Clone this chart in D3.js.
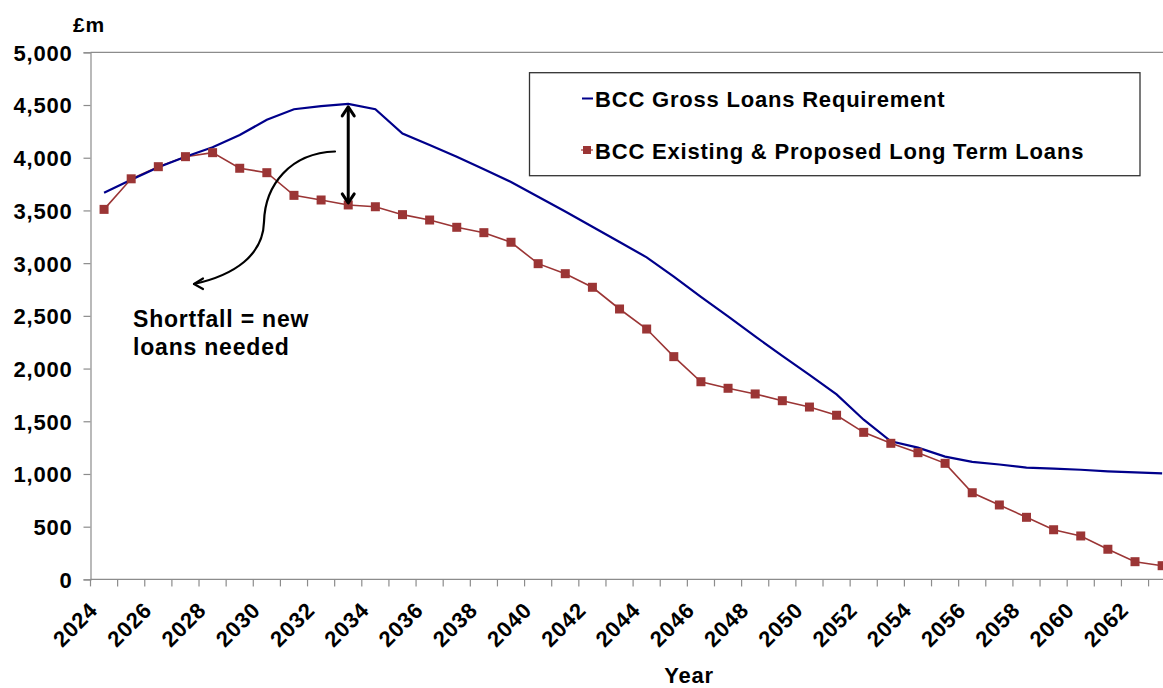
<!DOCTYPE html>
<html>
<head>
<meta charset="utf-8">
<script src="https://cdn.jsdelivr.net/npm/d3@7"></script>
<style>
  html, body { margin: 0; padding: 0; background: #fff; }
  svg { display: block; font-family: "Liberation Sans", Arial, sans-serif; font-weight: bold; letter-spacing: 0.8px; }
</style>
</head>
<body>
<svg id="chart" width="1163" height="688"></svg>
<script>
// Years on the category axis
const years = d3.range(2024, 2064);

// BCC gross loans requirement (£m)
const grossRequirement = [
  3668, 3790, 3910, 4010, 4100, 4215, 4360, 4460, 4490, 4510,
  4460, 4230, 4120, 4010, 3890, 3770, 3630, 3490, 3345, 3200,
  3055, 2873, 2680, 2495, 2305, 2120, 1940, 1755, 1515, 1310,
  1250, 1165, 1115, 1090, 1060, 1050, 1040, 1025, 1015, 1005
];

// BCC existing & proposed long term loans (£m)
const existingLoans = [
  3510, 3800, 3915, 4010, 4048, 3900, 3858, 3643, 3599, 3552,
  3535, 3460, 3409, 3340, 3289, 3198, 2995, 2900, 2771, 2565,
  2375, 2113, 1875, 1813, 1759, 1695, 1635, 1557, 1395, 1291,
  1202, 1101, 822, 706, 589, 471, 412, 286, 168, 130
];

// Axis ticks
const yTicks = d3.range(0, 5001, 500);
const xLabelYears = years.filter(yr => yr % 2 === 0);

const seriesNames = ["BCC Gross Loans Requirement", "BCC Existing & Proposed Long Term Loans"];
const annotationLines = ["Shortfall = new", "loans needed"];
const shortfallYear = 2033;

(function draw() {
  const svg = d3.select("#chart");

  const plotLeft = 90.5, plotTop = 52.3, plotBottom = 579.4;
  const band = 27.13;

  const x = d3.scaleBand().domain(years).range([plotLeft, plotLeft + band * years.length]);
  const cx = d => x(d) + x.bandwidth() / 2;
  const y = d3.scaleLinear().domain([0, 5000]).range([plotBottom, plotTop]);

  const axisGrey = "#8c8c8c";
  const plotRight = plotLeft + band * years.length;

  // plot frame: top edge
  svg.append("line")
    .attr("x1", plotLeft).attr("x2", plotRight)
    .attr("y1", y(5000)).attr("y2", y(5000))
    .attr("stroke", axisGrey).attr("stroke-width", 1.2);

  // y axis
  const yAxis = svg.append("g")
    .attr("transform", `translate(${plotLeft},0)`)
    .call(d3.axisLeft(y).tickValues(yTicks).tickFormat(d3.format(",")).tickSize(7).tickPadding(11));
  yAxis.select(".domain").attr("stroke", axisGrey).attr("stroke-width", 1.2);
  yAxis.selectAll(".tick line").attr("stroke", axisGrey).attr("stroke-width", 1.2);
  yAxis.selectAll(".tick text")
    .attr("fill", "#000").attr("font-size", 22).attr("font-weight", "bold")
    .attr("font-family", "Liberation Sans, Arial, sans-serif")
    .attr("dy", "0.36em");

  // x axis line
  svg.append("line")
    .attr("x1", plotLeft).attr("x2", plotRight)
    .attr("y1", plotBottom).attr("y2", plotBottom)
    .attr("stroke", axisGrey).attr("stroke-width", 1.2);

  // x tick marks at category boundaries
  svg.append("g").selectAll("line")
    .data(years.concat([years[years.length - 1] + 1]))
    .join("line")
    .attr("x1", (d, i) => plotLeft + i * x.bandwidth())
    .attr("x2", (d, i) => plotLeft + i * x.bandwidth())
    .attr("y1", plotBottom).attr("y2", plotBottom + 7)
    .attr("stroke", axisGrey).attr("stroke-width", 1.2);

  // x labels, rotated
  svg.append("g").selectAll("text")
    .data(xLabelYears)
    .join("text")
    .attr("transform", d => `translate(${cx(d) - 5},${plotBottom + 32}) rotate(-45)`)
    .attr("text-anchor", "end")
    .attr("font-size", 22)
    .attr("fill", "#000")
    .text(d => d);

  // axis titles
  svg.append("text").attr("x", 73).attr("y", 31.7).attr("font-size", 21).attr("fill", "#000").text("£m");
  svg.append("text").attr("x", 689).attr("y", 683).attr("text-anchor", "middle").attr("font-size", 22).attr("fill", "#000").text("Year");

  // series
  const blue = "#00008b";
  const red = "#9b3535";

  const lineGen = vals => d3.line().x((d, i) => cx(years[i])).y(d => y(d))(vals);

  svg.append("path")
    .attr("d", lineGen(existingLoans))
    .attr("fill", "none").attr("stroke", red).attr("stroke-width", 1.6);

  svg.append("path")
    .attr("d", lineGen(grossRequirement))
    .attr("fill", "none").attr("stroke", blue).attr("stroke-width", 2.2);

  const ms = 9;
  svg.append("g").selectAll("rect")
    .data(existingLoans)
    .join("rect")
    .attr("x", (d, i) => cx(years[i]) - ms / 2)
    .attr("y", d => y(d) - ms / 2)
    .attr("width", ms).attr("height", ms)
    .attr("fill", red);

  // shortfall double arrow at the peak gap
  const si = years.indexOf(shortfallYear);
  const ax = cx(shortfallYear);
  const yTop = y(grossRequirement[si]) + 2;
  const yBot = y(existingLoans[si]) - 1;
  const arrow = svg.append("g").attr("stroke", "#000").attr("fill", "none")
    .attr("stroke-width", 3).attr("stroke-linecap", "round").attr("stroke-linejoin", "round");
  arrow.append("line").attr("x1", ax).attr("x2", ax).attr("y1", yTop + 2).attr("y2", yBot - 2);
  arrow.append("path").attr("d", `M${ax - 6},${yTop + 10} L${ax},${yTop + 1} L${ax + 6},${yTop + 10}`);
  arrow.append("path").attr("d", `M${ax - 6},${yBot - 10} L${ax},${yBot - 1} L${ax + 6},${yBot - 10}`);

  // curved pointer to the annotation
  const curve = svg.append("g").attr("stroke", "#000").attr("fill", "none")
    .attr("stroke-width", 2.2).attr("stroke-linecap", "round").attr("stroke-linejoin", "round");
  curve.append("path").attr("d", "M335,151.5 C290,153 265,185 264,222 C263,255 235,275 194,284");
  curve.append("path").attr("d", "M203,278.5 L194,284 L203,289");

  // annotation text
  const ann = svg.append("text").attr("font-size", 23).attr("fill", "#000");
  ann.selectAll("tspan").data(annotationLines).join("tspan")
    .attr("x", 133).attr("y", (d, i) => 327.3 + i * 27.7)
    .text(d => d);

  // legend
  const lg = svg.append("g");
  lg.append("rect")
    .attr("x", 529.5).attr("y", 72.7).attr("width", 610.5).attr("height", 103)
    .attr("fill", "#fff").attr("stroke", "#333").attr("stroke-width", 1.3);
  lg.append("line").attr("x1", 582).attr("x2", 593).attr("y1", 98.5).attr("y2", 98.5)
    .attr("stroke", blue).attr("stroke-width", 2);
  lg.append("rect").attr("x", 583).attr("y", 146).attr("width", 8).attr("height", 8).attr("fill", red);
  lg.append("line").attr("x1", 581).attr("x2", 593).attr("y1", 150).attr("y2", 150)
    .attr("stroke", red).attr("stroke-width", 1.2);
  lg.selectAll("text.lt").data(seriesNames).join("text")
    .attr("class", "lt")
    .attr("x", 595).attr("y", (d, i) => 106.5 + i * 52)
    .attr("font-size", 22).attr("fill", "#000")
    .text(d => d);
})();
</script>
</body>
</html>
